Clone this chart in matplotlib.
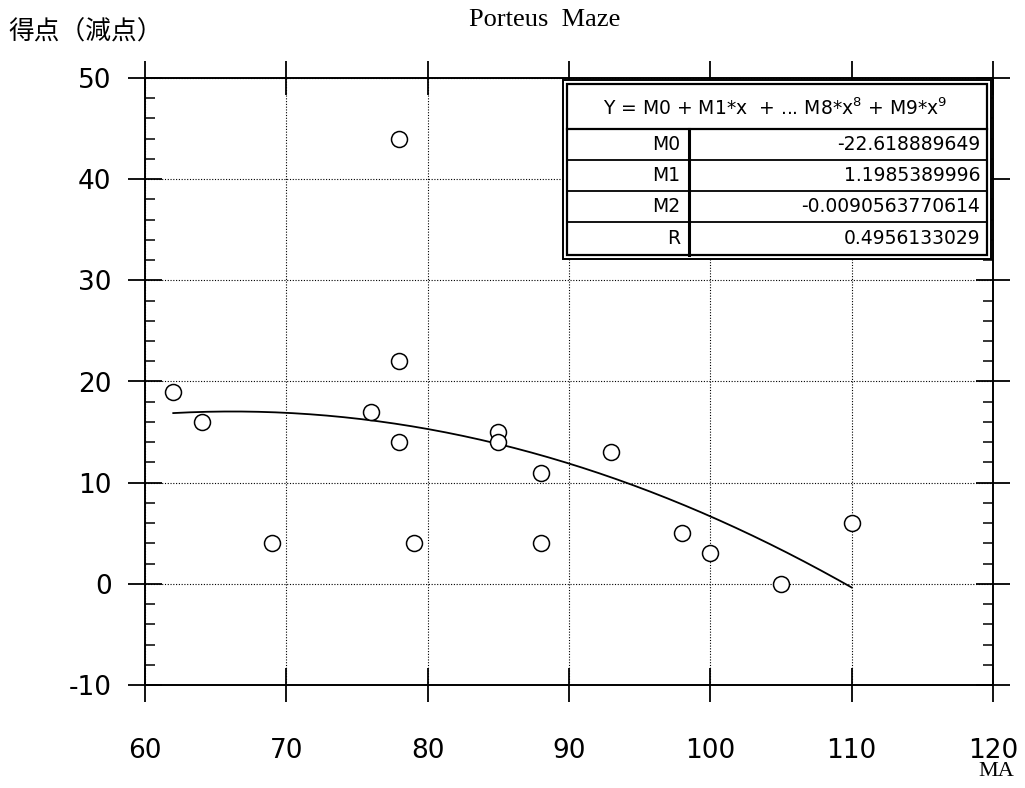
import numpy as np
import matplotlib.pyplot as plt
from matplotlib.patches import Rectangle
from matplotlib.lines import Line2D
from matplotlib.ticker import MultipleLocator

plt.rcParams["axes.unicode_minus"] = False

# data
ma = [62, 64, 69, 76, 78, 78, 78, 79, 85, 85, 88, 88, 93, 98, 100, 105, 110]
score = [19, 16, 4, 17, 44, 22, 14, 4, 15, 14, 11, 4, 13, 5, 3, 0, 6]

# fit coefficients shown in the table
m0 = -22.618889649
m1 = 1.1985389996
m2 = -0.0090563770614
r = 0.4956133029
coef_labels = ["M0", "M1", "M2", "R"]
coef_texts = ["-22.618889649", "1.1985389996", "-0.0090563770614", "0.4956133029"]

W, H = 1025, 788
fig = plt.figure(figsize=(W / 100, H / 100), dpi=100)
ax = fig.add_axes([145 / W, 1 - 685 / H, (993 - 145) / W, (685 - 78) / H])

fx = np.linspace(62, 110, 200)
ax.plot(fx, m0 + m1 * fx + m2 * fx ** 2, color="black", lw=1.3, zorder=3)
ax.plot(ma, score, "o", ms=11.5, mfc="white", mec="black", mew=1.1, zorder=4)

ax.set_xlim(60, 120)
ax.set_ylim(-10, 50)
ax.set_xticks(range(60, 121, 10))
ax.set_yticks(range(-10, 51, 10))
ax.yaxis.set_minor_locator(MultipleLocator(2))
ax.grid(True, which="major", linestyle=(0, (1, 1.5)), color="black", lw=0.8)

for s in ax.spines.values():
    s.set_linewidth(1.4)

ax.tick_params(which="major", direction="inout", length=24, width=1.3,
               top=True, right=True, labelsize=19)
ax.tick_params(axis="y", which="major", pad=12)
ax.tick_params(axis="x", which="major", pad=26)
ax.tick_params(which="minor", direction="in", length=7, width=1.1,
               left=True, right=True, top=False, bottom=False)
for lab in ax.get_xticklabels() + ax.get_yticklabels():
    lab.set_fontfamily("DejaVu Sans")

fig.text(545 / W, 1 - 20 / H, "Porteus  Maze", ha="center", va="center",
         fontsize=19, family="Liberation Serif")
fig.text(1014 / W, 1 - 772 / H, "MA", ha="right", va="center",
         fontsize=16, family="Liberation Serif")
fig.text(8 / W, 1 - 33 / H, "得点（減点）", ha="left", va="center",
         fontsize=18.5, family=["Noto Sans CJK JP", "DejaVu Sans"])

# coefficient table, drawn in figure pixels
def fx_(x):
    return x / W

def fy_(y):
    return 1 - y / H

def rect(x0, y0, x1, y1, lw):
    fig.add_artist(Rectangle((fx_(x0), fy_(y1)), fx_(x1) - fx_(x0), fy_(y0) - fy_(y1),
                             transform=fig.transFigure, fill=False, lw=lw,
                             edgecolor="black", zorder=10))

def hline(x0, x1, y, lw):
    fig.add_artist(Line2D([fx_(x0), fx_(x1)], [fy_(y), fy_(y)],
                          transform=fig.transFigure, color="black", lw=lw, zorder=10))

fig.add_artist(Rectangle((fx_(563), fy_(259)), fx_(991) - fx_(563), fy_(80) - fy_(259),
                         transform=fig.transFigure, facecolor="white",
                         edgecolor="black", lw=1.4, zorder=9))
rect(567, 84, 987, 255, 1.6)
hline(567, 987, 129, 1.6)
rows = [129, 160, 191, 222, 255]
for y in rows[1:-1]:
    hline(567, 987, y, 1.3)
fig.add_artist(Line2D([fx_(689), fx_(689)], [fy_(129), fy_(255)],
                      transform=fig.transFigure, color="black", lw=2.2, zorder=10))

fig.text(fx_(775), fy_(108), r"Y = M0 + M1*x  + ... M8*x$^{8}$ + M9*x$^{9}$",
         ha="center", va="center", fontsize=13.5, zorder=11)
for i, (lab, val) in enumerate(zip(coef_labels, coef_texts)):
    yc = (rows[i] + rows[i + 1]) / 2
    fig.text(fx_(680), fy_(yc), lab, ha="right", va="center", fontsize=13.5, zorder=11)
    fig.text(fx_(980), fy_(yc), val, ha="right", va="center", fontsize=13.5, zorder=11)

fig.savefig("out.png", dpi=100)
